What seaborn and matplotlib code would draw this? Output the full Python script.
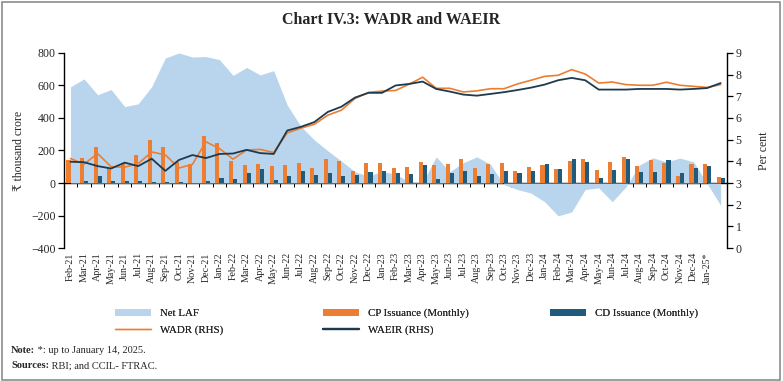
import numpy as np
import pandas as pd
import seaborn as sns
import matplotlib.pyplot as plt
from matplotlib.patches import Rectangle, Patch
from matplotlib.lines import Line2D

# month labels (last category has no label in the original chart)
months = ["Feb-21", "Mar-21", "Apr-21", "May-21", "Jun-21", "Jul-21", "Aug-21", "Sep-21",
          "Oct-21", "Nov-21", "Dec-21", "Jan-22", "Feb-22", "Mar-22", "Apr-22", "May-22",
          "Jun-22", "Jul-22", "Aug-22", "Sep-22", "Oct-22", "Nov-22", "Dec-22", "Jan-23",
          "Feb-23", "Mar-23", "Apr-23", "May-23", "Jun-23", "Jul-23", "Aug-23", "Sep-23",
          "Oct-23", "Nov-23", "Dec-23", "Jan-24", "Feb-24", "Mar-24", "Apr-24", "May-24",
          "Jun-24", "Jul-24", "Aug-24", "Sep-24", "Oct-24", "Nov-24", "Dec-24", "Jan-25*", ""]

net_laf = [592, 640, 543, 575, 470, 487, 594, 769, 800, 775, 778, 759, 662, 711, 665, 691,
           480, 350, 265, 198, 135, 70, 42, 72, 55, 8, 5, 161, 70, 125, 161, 115,
           -10, -40, -62, -115, -202, -178, -40, -30, -115, -25, 110, 155, 130, 153, 131, -3, -137]

cp_issuance = [140, 156, 223, 90, 120, 171, 264, 219, 132, 115, 287, 248, 136, 110, 115, 107,
               112, 122, 94, 149, 137, 72, 122, 122, 95, 100, 127, 110, 116, 147, 91, 116,
               120, 73, 98, 110, 88, 137, 150, 82, 131, 160, 104, 141, 125, 44, 114, 115, 34]

cd_issuance = [3, 10, 42, 11, 12, 11, 4, 8, 7, 1, 12, 32, 25, 63, 87, 16,
               44, 72, 52, 62, 46, 52, 69, 75, 59, 54, 108, 24, 59, 72, 42, 56,
               71, 63, 74, 115, 87, 147, 129, 33, 80, 147, 66, 65, 141, 60, 91, 103, 30]

wadr = [4.13, 3.87, 4.36, 3.75, 3.73, 3.90, 4.43, 4.30, 3.69, 3.86, 4.90, 4.59, 4.10, 4.52, 4.55, 4.41,
        5.31, 5.53, 5.71, 6.13, 6.36, 6.90, 7.18, 7.24, 7.27, 7.56, 7.88, 7.37, 7.37, 7.20, 7.25, 7.35,
        7.35, 7.57, 7.74, 7.92, 7.97, 8.23, 8.03, 7.61, 7.66, 7.54, 7.51, 7.51, 7.65, 7.51, 7.46, 7.41, 7.54]

waeir = [3.98, 3.96, 3.78, 3.67, 3.94, 3.78, 4.12, 3.56, 4.06, 4.29, 4.15, 4.34, 4.36, 4.53, 4.38, 4.34,
         5.42, 5.59, 5.81, 6.28, 6.52, 6.94, 7.16, 7.16, 7.50, 7.57, 7.68, 7.34, 7.22, 7.08, 7.03, 7.11,
         7.19, 7.29, 7.40, 7.54, 7.74, 7.85, 7.74, 7.31, 7.31, 7.31, 7.34, 7.34, 7.34, 7.31, 7.34, 7.38, 7.61]

c_laf = "#b9d5ee"
c_cp = "#ed7d31"
c_cd = "#1f5b7c"
c_waeir = "#1d3b4f"

df = pd.DataFrame({"month": months, "Net LAF": net_laf,
                   "CP Issuance (Monthly)": cp_issuance, "CD Issuance (Monthly)": cd_issuance,
                   "WADR (RHS)": wadr, "WAEIR (RHS)": waeir})
df["x"] = np.arange(len(df))

sns.set_style("white")
plt.rcParams["font.family"] = ["Liberation Serif", "DejaVu Serif"]

fig = plt.figure(figsize=(7.83, 3.81), dpi=100)
ax = fig.add_axes([0.0814, 0.349, 0.8476, 0.512])

x = df["x"].values
ax.fill_between(x, 0, df["Net LAF"], color=c_laf, linewidth=0, zorder=1)

bars = df.melt(id_vars="x", value_vars=["CP Issuance (Monthly)", "CD Issuance (Monthly)"],
               var_name="series", value_name="val")
sns.barplot(data=bars, x="x", y="val", hue="series", palette=[c_cp, c_cd],
            width=0.6, gap=0, linewidth=0, saturation=1, ax=ax, legend=False, zorder=2)

ax.set_xlim(-0.5, len(df) - 0.5)
ax.set_ylim(-400, 800)
ax.set_yticks(range(-400, 801, 200))
ax.set_xticks(x)
ax.set_xticklabels(df["month"], rotation=90, fontsize=7.2)
ax.tick_params(axis="x", length=0, pad=3)
ax.tick_params(axis="y", direction="out", length=4, width=0.9, labelsize=8.5, pad=2, left=True, color="black")
ax.set_xlabel("")
ax.set_ylabel("₹ thousand crore", fontsize=8.5, labelpad=4)
for s in ["top", "right", "bottom"]:
    ax.spines[s].set_visible(False)
ax.spines["left"].set_color("black")
ax.spines["left"].set_linewidth(1.0)

# zero line with category separators
zero = ax.secondary_xaxis(1 / 3)
zero.set_xticks(np.arange(-0.5, len(df), 1))
zero.tick_params(axis="x", direction="out", length=3, width=0.7, labelbottom=False, color="black")
zero.spines["bottom"].set_color("black")
zero.spines["bottom"].set_linewidth(1.0)

ax2 = ax.twinx()
sns.lineplot(x=x, y=df["WADR (RHS)"], color=c_cp, linewidth=1.2, ax=ax2, zorder=4)
sns.lineplot(x=x, y=df["WAEIR (RHS)"], color=c_waeir, linewidth=1.3, ax=ax2, zorder=5)
ax2.set_ylim(0, 9)
ax2.set_yticks(range(0, 10))
ax2.tick_params(axis="y", direction="out", length=4, width=0.9, labelsize=8.5, pad=2, right=True, color="black")
ax2.set_ylabel("Per cent", fontsize=8.5, labelpad=12)
for s in ["top", "left", "bottom"]:
    ax2.spines[s].set_visible(False)
ax2.spines["right"].set_color("black")
ax2.spines["right"].set_linewidth(1.0)

fig.text(0.5, 0.947, "Chart IV.3: WADR and WAEIR", ha="center", va="center",
         fontsize=11.5, fontweight="bold")

# legend: three columns placed separately, two rows
leg_cols = [
    ([Patch(facecolor=c_laf, edgecolor="none"), Line2D([], [], color=c_cp, linewidth=1.0)],
     ["Net LAF", "WADR (RHS)"], 0.147),
    ([Patch(facecolor=c_cp, edgecolor="none"), Line2D([], [], color=c_waeir, linewidth=1.6)],
     ["CP Issuance (Monthly)", "WAEIR (RHS)"], 0.413),
    ([Patch(facecolor=c_cd, edgecolor="none")], ["CD Issuance (Monthly)"], 0.703),
]
for h, l, xpos in leg_cols:
    leg = fig.legend(h, l, loc="upper left", bbox_to_anchor=(xpos, 0.19),
                     bbox_transform=fig.transFigure, frameon=False, fontsize=7.8,
                     handlelength=3.3, handleheight=0.7, labelspacing=0.62,
                     handletextpad=0.8, borderpad=0, borderaxespad=0)
    fig.add_artist(leg)

t1 = fig.text(0.014, 0.073, "Note:", fontsize=7.5, fontweight="bold", va="baseline")
t2 = fig.text(0.014, 0.034, "Sources:", fontsize=7.5, fontweight="bold", va="baseline")
fig.canvas.draw()
r = fig.canvas.get_renderer()
bb1 = t1.get_window_extent(r).transformed(fig.transFigure.inverted())
bb2 = t2.get_window_extent(r).transformed(fig.transFigure.inverted())
fig.text(bb1.x1, 0.073, " *: up to January 14, 2025.", fontsize=7.5, va="baseline")
fig.text(bb2.x1, 0.034, " RBI; and CCIL- FTRAC.", fontsize=7.5, va="baseline")

fig.patches.append(Rectangle((0.002, 0.003), 0.994, 0.992, transform=fig.transFigure,
                             fill=False, edgecolor="#8c8c8c", linewidth=1.2))

fig.savefig("out.png", dpi=100)
